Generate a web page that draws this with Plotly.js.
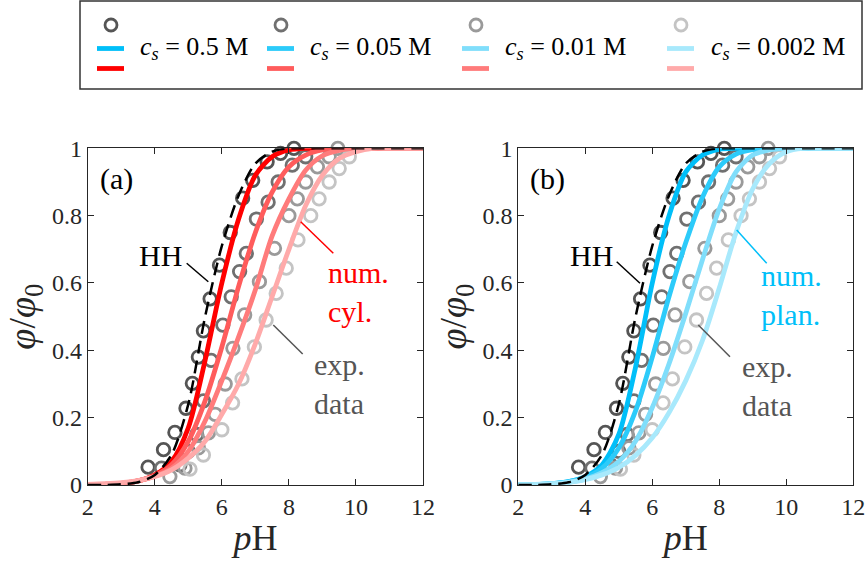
<!DOCTYPE html>
<html>
<head>
<meta charset="utf-8">
<script src="https://cdn.plot.ly/plotly-3.0.1.min.js"></script>
<style>
  html, body { margin: 0; padding: 0; background: #fff; }
  #chart { width: 866px; height: 564px; }
</style>
</head>
<body>
<div id="chart"></div>
<script>
// experimental data (same points in both panels), phi/phi0 vs pH
const expPH1 = [3.8, 4.26, 4.6, 4.93, 5.12, 5.3, 5.45, 5.65, 5.93, 6.25, 6.62, 6.92, 7.35, 7.75, 8.15];
const expY1  = [0.053, 0.105, 0.156, 0.228, 0.302, 0.38, 0.458, 0.553, 0.653, 0.75, 0.852, 0.905, 0.96, 0.985, 1.0];
const expPH2 = [4.2, 4.75, 5.0, 5.25, 5.45, 5.68, 6.03, 6.28, 6.53, 6.73, 7.03, 7.38, 7.68, 8.1, 8.5];
const expY2  = [0.05, 0.06, 0.1, 0.15, 0.25, 0.37, 0.475, 0.559, 0.634, 0.688, 0.79, 0.84, 0.9, 0.95, 0.975];
const expPH3 = [4.45, 4.9, 5.3, 5.6, 5.8, 6.1, 6.33, 6.68, 7.12, 7.57, 8.0, 8.25, 8.5, 8.85, 9.2, 9.46];
const expY3  = [0.025, 0.05, 0.11, 0.155, 0.21, 0.3, 0.406, 0.505, 0.604, 0.703, 0.8, 0.85, 0.9, 0.945, 0.975, 1.0];
const expPH4 = [5.05, 5.45, 6.0, 6.32, 6.6, 6.97, 7.32, 7.62, 7.92, 8.27, 8.65, 8.9, 9.2, 9.5, 9.8];
const expY4  = [0.047, 0.089, 0.164, 0.244, 0.315, 0.41, 0.49, 0.569, 0.644, 0.728, 0.8, 0.85, 0.9, 0.94, 0.975];

// model curves sampled on a common pH grid
const pHgrid = [2, 2.5, 3, 3.5, 4, 4.5, 5, 5.5, 6, 6.5, 7, 7.5, 8, 8.5, 9, 9.5, 10, 10.5, 11, 12];
const hhY    = [0, 0, 0.002, 0.008, 0.03, 0.09, 0.24, 0.5, 0.71, 0.86, 0.955, 0.99, 1, 1, 1, 1, 1, 1, 1, 1];
const cylY1  = [0, 0.001, 0.004, 0.012, 0.03, 0.07, 0.17, 0.37, 0.6, 0.79, 0.92, 0.975, 0.995, 1, 1, 1, 1, 1, 1, 1];
const cylY2  = [0, 0.002, 0.005, 0.012, 0.028, 0.06, 0.13, 0.25, 0.41, 0.59, 0.75, 0.87, 0.945, 0.98, 0.995, 1, 1, 1, 1, 1];
const cylY3  = [0, 0.002, 0.005, 0.012, 0.026, 0.05, 0.1, 0.19, 0.31, 0.44, 0.58, 0.74, 0.85, 0.935, 0.978, 0.994, 1, 1, 1, 1];
const cylY4  = [0.002, 0.004, 0.007, 0.013, 0.025, 0.045, 0.08, 0.13, 0.21, 0.3, 0.42, 0.56, 0.7, 0.83, 0.92, 0.97, 0.99, 1, 1, 1];
const plnY1  = [0, 0.001, 0.004, 0.01, 0.025, 0.06, 0.15, 0.35, 0.6, 0.8, 0.93, 0.98, 0.997, 1, 1, 1, 1, 1, 1, 1];
const plnY2  = [0, 0.001, 0.004, 0.01, 0.022, 0.05, 0.11, 0.22, 0.38, 0.56, 0.72, 0.855, 0.945, 0.983, 0.996, 1, 1, 1, 1, 1];
const plnY3  = [0, 0.001, 0.003, 0.008, 0.018, 0.037, 0.07, 0.13, 0.23, 0.36, 0.51, 0.67, 0.82, 0.93, 0.98, 0.995, 1, 1, 1, 1];
const plnY4  = [0.001, 0.002, 0.004, 0.008, 0.016, 0.03, 0.052, 0.088, 0.14, 0.215, 0.31, 0.43, 0.585, 0.75, 0.88, 0.955, 0.99, 1, 1, 1];

const saltLabels = ["0.5", "0.05", "0.01", "0.002"];
const grays = ["#555555", "#707070", "#9a9a9a", "#c4c4c4"];
const reds  = ["#ff0000", "#ff5c5c", "#ff7b7b", "#ffaaaa"];
const blues = ["#00bff9", "#2ccbfa", "#80defb", "#a8e9fc"];

const expX = [expPH1, expPH2, expPH3, expPH4];
const expY = [expY1, expY2, expY3, expY4];
const cylY = [cylY1, cylY2, cylY3, cylY4];
const plnY = [plnY1, plnY2, plnY3, plnY4];

const W = 866, H = 564;
const FONT = "Liberation Serif, DejaVu Serif, serif";
const AX = "#262626";
function px(x) { return x / W; }
function py(y) { return 1 - y / H; }

let traces = [];
["x", "x2"].forEach(function(xa, p) {
  let ya = p === 0 ? "y" : "y2";
  let model = p === 0 ? cylY : plnY;
  let cols = p === 0 ? reds : blues;
  for (let i = 0; i < 4; i++) {
    traces.push({
      x: expX[i], y: expY[i], xaxis: xa, yaxis: ya,
      type: "scatter", mode: "markers", cliponaxis: false,
      marker: {symbol: "circle-open", size: 12.5, color: grays[i], line: {width: 2.8, color: grays[i]}},
      hoverinfo: "skip"
    });
  }
  for (let i = 0; i < 4; i++) {
    traces.push({
      x: pHgrid, y: model[i], xaxis: xa, yaxis: ya,
      type: "scatter", mode: "lines",
      line: {color: cols[i], width: 4.8, shape: "spline", smoothing: 0.8},
      hoverinfo: "skip"
    });
  }
  traces.push({
    x: pHgrid, y: hhY, xaxis: xa, yaxis: ya,
    type: "scatter", mode: "lines",
    line: {color: "#000", width: 2.5, dash: "13px,7px", shape: "spline", smoothing: 0.8},
    hoverinfo: "skip"
  });
});

function xAxis(dom, anchor) {
  return {
    domain: dom, anchor: anchor, range: [2, 12],
    tickvals: [2, 4, 6, 8, 10, 12],
    ticks: "inside", ticklen: 6, tickcolor: AX,
    showline: true, mirror: "ticks", linecolor: AX, linewidth: 1,
    showgrid: false, zeroline: false,
    tickfont: {family: FONT, size: 24, color: AX},
    title: {text: "<i>p</i>H", font: {family: FONT, size: 36, color: AX}, standoff: 6}
  };
}
function yAxis(anchor) {
  return {
    domain: [0.1401, 0.737], anchor: anchor, range: [0, 1],
    tickvals: [0, 0.2, 0.4, 0.6, 0.8, 1],
    ticktext: ["0", "0.2", "0.4", "0.6", "0.8", "1"],
    ticks: "inside", ticklen: 6, tickcolor: AX,
    showline: true, mirror: "ticks", linecolor: AX, linewidth: 1,
    showgrid: false, zeroline: false,
    tickfont: {family: FONT, size: 24, color: AX},
    title: {text: "<i>φ</i>/<i>φ</i><sub>0</sub>", font: {family: FONT, size: 38, color: AX}, standoff: 4}
  };
}

let shapes = [];
let annotations = [];

// legend box
shapes.push({type: "rect", xref: "paper", yref: "paper",
  x0: px(80), x1: px(862), y0: py(89), y1: py(1),
  line: {color: "#333", width: 1.5}, fillcolor: "rgba(0,0,0,0)"});
const legCx = [111, 281, 476, 681];
const legTx = [138, 308, 503, 709];
for (let i = 0; i < 4; i++) {
  let c = legCx[i];
  shapes.push({type: "circle", xref: "paper", yref: "paper",
    x0: px(c - 6), x1: px(c + 6), y0: py(31), y1: py(19),
    line: {color: grays[i], width: 2.8}});
  shapes.push({type: "line", xref: "paper", yref: "paper",
    x0: px(c - 14), x1: px(c + 13), y0: py(48.5), y1: py(48.5),
    line: {color: blues[i], width: 4.8}});
  shapes.push({type: "line", xref: "paper", yref: "paper",
    x0: px(c - 14), x1: px(c + 13), y0: py(68.5), y1: py(68.5),
    line: {color: reds[i], width: 4.8}});
  annotations.push({xref: "paper", yref: "paper", x: px(legTx[i]), y: py(48),
    xanchor: "left", yanchor: "middle", showarrow: false,
    text: "<i>c</i><sub><i>s</i></sub> = " + saltLabels[i] + " M",
    font: {family: FONT, size: 26, color: "#000"}});
}

// pointer lines and labels
function pointer(x0, y0, x1, y1, col) {
  shapes.push({type: "line", xref: "paper", yref: "paper",
    x0: px(x0), y0: py(y0), x1: px(x1), y1: py(y1), line: {color: col, width: 1.5}});
}
function label(x, y, txt, col, anchor) {
  annotations.push({xref: "paper", yref: "paper", x: px(x), y: py(y),
    xanchor: anchor || "center", yanchor: "middle", showarrow: false, align: "left",
    text: txt, font: {family: FONT, size: 30, color: col}});
}
pointer(186.7, 263.3, 208.3, 281.7, "#000");
pointer(300.7, 221.7, 333.3, 253.3, "#ff0000");
pointer(273.3, 325, 302.7, 354, "#555");
pointer(616.7, 261.7, 640, 283.3, "#000");
pointer(736.7, 230, 766.7, 263.3, "#00bff9");
pointer(698.3, 325, 730, 356.7, "#555");

label(116, 179, "(a)", "#000");
label(160, 255, "HH", "#000");
label(326, 292, "num.<br>cyl.", "#ff0000", "left");
label(312, 384, "exp.<br>data", "#555", "left");
label(547, 179, "(b)", "#000");
label(591, 255, "HH", "#000");
label(759, 295, "num.<br>plan.", "#00bff9", "left");
label(740, 386, "exp.<br>data", "#555", "left");

const layout = {
  width: W, height: H,
  margin: {l: 0, r: 0, t: 0, b: 0},
  paper_bgcolor: "#fff", plot_bgcolor: "#fff",
  showlegend: false,
  xaxis: xAxis([0.1013, 0.4885], "y"),
  yaxis: yAxis("x"),
  xaxis2: xAxis([0.5985, 0.9853], "y2"),
  yaxis2: yAxis("x2"),
  shapes: shapes,
  annotations: annotations
};

Plotly.newPlot("chart", traces, layout, {staticPlot: true});
</script>
</body>
</html>
